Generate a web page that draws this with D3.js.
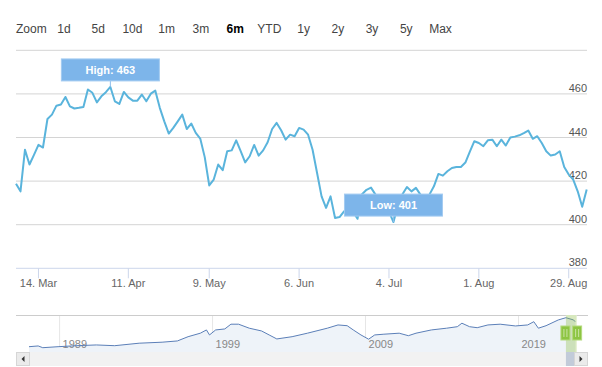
<!DOCTYPE html>
<html>
<head>
<meta charset="utf-8">
<title>6m price chart</title>
<style>
    html, body {
        margin: 0;
        background: #fff;
    }
    svg {
        display: block;
        font-family: "Liberation Sans", Arial, sans-serif;
    }
</style>
</head>
<body>
<svg id="chart" width="602" height="367"></svg>

<script src="https://d3js.org/d3.v7.min.js"></script>
<script>
    "use strict";

    // range selector
    const zoomButtons = ["1d", "5d", "10d", "1m", "3m", "6m", "YTD", "1y", "2y", "3y", "5y", "Max"];
    const selectedButton = "6m";

    // daily closes, last 6 months (trading days only)
    const prices = [
        418.8, 415.3, 434.4, 427.6, 432.0, 436.6, 435.4, 448.5, 450.5, 454.6,
        455.1, 458.6, 454.3, 453.3, 453.6, 454.0, 462.0, 460.5, 456.1, 458.9,
        460.8, 463.2, 456.6, 455.4, 460.9, 458.4, 456.9, 456.9, 459.7, 456.6,
        460.1, 461.5, 453.6, 447.4, 441.8, 444.4, 447.4, 450.5, 443.9, 446.4,
        442.1, 439.5, 431.0, 418.0, 420.7, 427.6, 425.0, 433.7, 434.1, 438.7,
        433.7, 428.6, 431.4, 436.6, 431.7, 434.1, 437.8, 443.9, 446.7, 443.3,
        439.0, 441.3, 440.6, 444.4, 443.6, 441.3, 434.4, 423.7, 413.0, 407.7,
        413.0, 403.1, 403.5, 406.1, 408.0, 406.0, 402.7, 414.0, 416.0, 417.0,
        413.8, 411.0, 409.0, 406.0, 401.2, 409.0, 414.0, 417.3, 415.3, 416.9,
        413.8, 413.0, 413.8, 417.6, 423.3, 422.5, 424.5, 426.0, 426.5, 426.5,
        428.5, 433.5, 438.3, 437.5, 436.0, 438.7, 439.0, 436.0, 439.0, 436.3,
        440.0, 440.4, 441.0, 442.0, 443.2, 439.4, 440.6, 437.5, 433.7, 431.7,
        432.2, 433.7, 426.5, 423.0, 420.7, 415.3, 408.2, 416.1
    ];
    const dateTicks = ["14. Mar", "11. Apr", "9. May", "6. Jun", "4. Jul", "1. Aug", "29. Aug"];
    const dateTickIndex = [5, 25, 43, 63, 83, 103, 123];
    const priceTicks = [380, 400, 420, 440, 460, 480];

    // navigator: full history
    const navYears = [
        1987.0, 1987.6, 1987.9, 1988.9, 1990.1, 1991.4, 1992.6, 1994.2, 1995.7, 1996.7,
        1997.4, 1998.2, 1998.6, 1998.8, 1999.2, 1999.8, 2000.2, 2000.7, 2001.4, 2002.2,
        2002.7, 2003.2, 2004.2, 2005.2, 2006.5, 2007.2, 2007.8, 2008.2, 2008.7, 2009.2,
        2009.6, 2010.2, 2011.2, 2011.8, 2012.3, 2013.3, 2014.3, 2015.0, 2015.3, 2015.8,
        2016.3, 2017.0, 2017.8, 2018.8, 2019.6, 2020.0, 2020.3, 2020.8, 2021.6, 2022.1,
        2022.6, 2022.7
    ];
    const navValues = [
        347, 350, 343, 347, 351, 354, 351, 361, 365, 370,
        387, 401, 414, 394, 414, 418, 437, 437, 421, 410,
        394, 378, 387, 401, 421, 434, 431, 414, 394, 377,
        394, 397, 401, 391, 401, 414, 421, 427, 441, 427,
        423, 434, 437, 430, 434, 447, 421, 431, 454, 463,
        454, 447
    ];
    const navYearTicks = [1989, 1999, 2009, 2019];
    const navWindow = [2022.1, 2022.8];

    const svg = d3.select("#chart");
    const left = 16, right = 587;

    // ---- range selector buttons
    const btn = svg.append("g").attr("class", "range-selector");
    btn.append("text")
        .attr("x", left).attr("y", 32.5)
        .attr("font-size", 12).attr("fill", "#444")
        .text("Zoom");
    const btnX = d3.scalePoint().domain(zoomButtons).range([64, 440.5]);
    btn.selectAll(".btn").data(zoomButtons).join("text")
        .attr("class", "btn")
        .attr("x", d => btnX(d)).attr("y", 32.5)
        .attr("text-anchor", "middle")
        .attr("font-size", 12)
        .attr("font-weight", d => d === selectedButton ? "bold" : "normal")
        .attr("fill", d => d === selectedButton ? "#000" : "#444")
        .text(d => d);

    // ---- main chart
    const x = d3.scaleLinear().domain([0, prices.length - 1]).range([left, 586.7]);
    const y = d3.scaleLinear().domain([380, 480]).range([268.3, 50.3]);

    const grid = svg.append("g");
    grid.selectAll("line").data(priceTicks).join("line")
        .attr("x1", left).attr("x2", right)
        .attr("y1", d => y(d)).attr("y2", d => y(d))
        .attr("stroke", d => d === 380 ? "#ccd6eb" : "#d4d4d4")
        .attr("stroke-width", 1);
    grid.selectAll("text").data(priceTicks.filter(d => d < 480)).join("text")
        .attr("x", right).attr("y", d => y(d) - 2)
        .attr("text-anchor", "end")
        .attr("font-size", 11).attr("fill", "#555")
        .text(d => d);

    const xAxis = svg.append("g");
    xAxis.selectAll("line").data(dateTickIndex).join("line")
        .attr("x1", d => x(d)).attr("x2", d => x(d))
        .attr("y1", y(380)).attr("y2", y(380) + 10)
        .attr("stroke", "#ccd6eb");
    xAxis.selectAll("text").data(dateTickIndex).join("text")
        .attr("x", d => x(d)).attr("y", 287)
        .attr("text-anchor", "middle")
        .attr("font-size", 11).attr("fill", "#666")
        .text((d, i) => dateTicks[i]);

    const line = d3.line()
        .x((d, i) => x(i))
        .y(d => y(d));
    svg.append("path")
        .datum(prices)
        .attr("d", line)
        .attr("fill", "none")
        .attr("stroke", "#5ab4dc")
        .attr("stroke-width", 2)
        .attr("stroke-linejoin", "round");

    // high / low labels
    const hiIdx = d3.maxIndex(prices), loIdx = d3.minIndex(prices);
    const marks = [
        {i: hiIdx, text: "High: " + Math.round(prices[hiIdx])},
        {i: loIdx, text: "Low: " + Math.round(prices[loIdx])}
    ];
    const boxW = 98, boxH = 22;
    const lab = svg.append("g").selectAll("g").data(marks).join("g")
        .attr("transform", d => "translate(" + x(d.i) + "," + y(prices[d.i]) + ")");
    lab.append("line")
        .attr("x1", 0).attr("x2", 0).attr("y1", -6).attr("y2", 0)
        .attr("stroke", "#8dbdec");
    lab.append("rect")
        .attr("x", -boxW / 2).attr("y", -6 - boxH)
        .attr("width", boxW).attr("height", boxH)
        .attr("fill", "#7db5ea").attr("stroke", "#a3cbf1");
    lab.append("text")
        .attr("x", 0).attr("y", -6 - boxH / 2 + 4)
        .attr("text-anchor", "middle")
        .attr("font-size", 11).attr("font-weight", "bold")
        .attr("fill", "#fff")
        .text(d => d.text);

    // ---- navigator
    const navTop = 315, navBottom = 352;
    const nx = d3.scaleLinear().domain([1989, 2019]).range([59.6, 518.5]);
    const ny = d3.scaleLinear().domain([343, 463]).range([347.7, 317.7]);

    const nav = svg.append("g");
    nav.selectAll(".yr").data(navYearTicks).join("line")
        .attr("class", "yr")
        .attr("x1", d => nx(d)).attr("x2", d => nx(d))
        .attr("y1", navTop).attr("y2", navBottom)
        .attr("stroke", "#e6e6e6");
    nav.append("path")
        .datum(navValues)
        .attr("d", d3.area()
            .x((d, i) => nx(navYears[i]))
            .y0(navBottom)
            .y1(d => ny(d)))
        .attr("fill", "#eef3f9");
    nav.selectAll(".yl").data(navYearTicks).join("text")
        .attr("class", "yl")
        .attr("x", d => nx(d) + 3).attr("y", navBottom - 4)
        .attr("font-size", 11).attr("fill", "#888")
        .text(d => d);
    nav.append("path")
        .datum(navValues)
        .attr("d", d3.line()
            .x((d, i) => nx(navYears[i]))
            .y(d => ny(d)))
        .attr("fill", "none")
        .attr("stroke", "#5b7fb8")
        .attr("stroke-width", 1);

    // selected window
    const wx0 = nx(navWindow[0]), wx1 = nx(navWindow[1]);
    nav.append("rect")
        .attr("x", wx0).attr("y", navTop)
        .attr("width", wx1 - wx0).attr("height", navBottom - navTop)
        .attr("fill", "rgba(140,190,70,0.35)");
    nav.append("path")
        .attr("d", "M" + left + "," + (navTop + 0.5) + "H" + wx0 + "M" + wx1 + "," + (navTop + 0.5) + "H" + 588)
        .attr("stroke", "#cccccc").attr("fill", "none");

    // scrollbar
    const sb = svg.append("g");
    sb.append("rect")
        .attr("x", left).attr("y", navBottom)
        .attr("width", 588 - left).attr("height", 14)
        .attr("fill", "#f2f2f2");
    sb.append("rect")
        .attr("x", wx0).attr("y", navBottom)
        .attr("width", wx1 - wx0).attr("height", 14)
        .attr("fill", "#c2cbd9");
    [left, 588 - 14].forEach((bx, k) => {
        sb.append("rect")
            .attr("x", bx + 0.5).attr("y", navBottom + 0.5)
            .attr("width", 13).attr("height", 13)
            .attr("fill", "#ebebeb").attr("stroke", "#d6d6d6");
        const cx = bx + 7, cy = navBottom + 7;
        sb.append("path")
            .attr("d", k === 0
                ? "M" + (cx + 1.5) + "," + (cy - 3) + "L" + (cx - 1.5) + "," + cy + "L" + (cx + 1.5) + "," + (cy + 3) + "Z"
                : "M" + (cx - 1.5) + "," + (cy - 3) + "L" + (cx + 1.5) + "," + cy + "L" + (cx - 1.5) + "," + (cy + 3) + "Z")
            .attr("fill", "#333");
    });

    // handles
    [wx0, wx1].forEach((hx, k) => {
        const hw = 9;
        const g = nav.append("g")
            .attr("transform", "translate(" + (k === 0 ? hx - 5 : hx - 4) + "," + 326 + ")");
        g.append("rect")
            .attr("width", hw).attr("height", 14)
            .attr("fill", "#8dc542").attr("stroke", "#b4da7e");
        g.selectAll("line").data([3, 6]).join("line")
            .attr("x1", d => d).attr("x2", d => d)
            .attr("y1", 3).attr("y2", 11)
            .attr("stroke", "#c9e3a4");
    });
</script>
</body>
</html>
